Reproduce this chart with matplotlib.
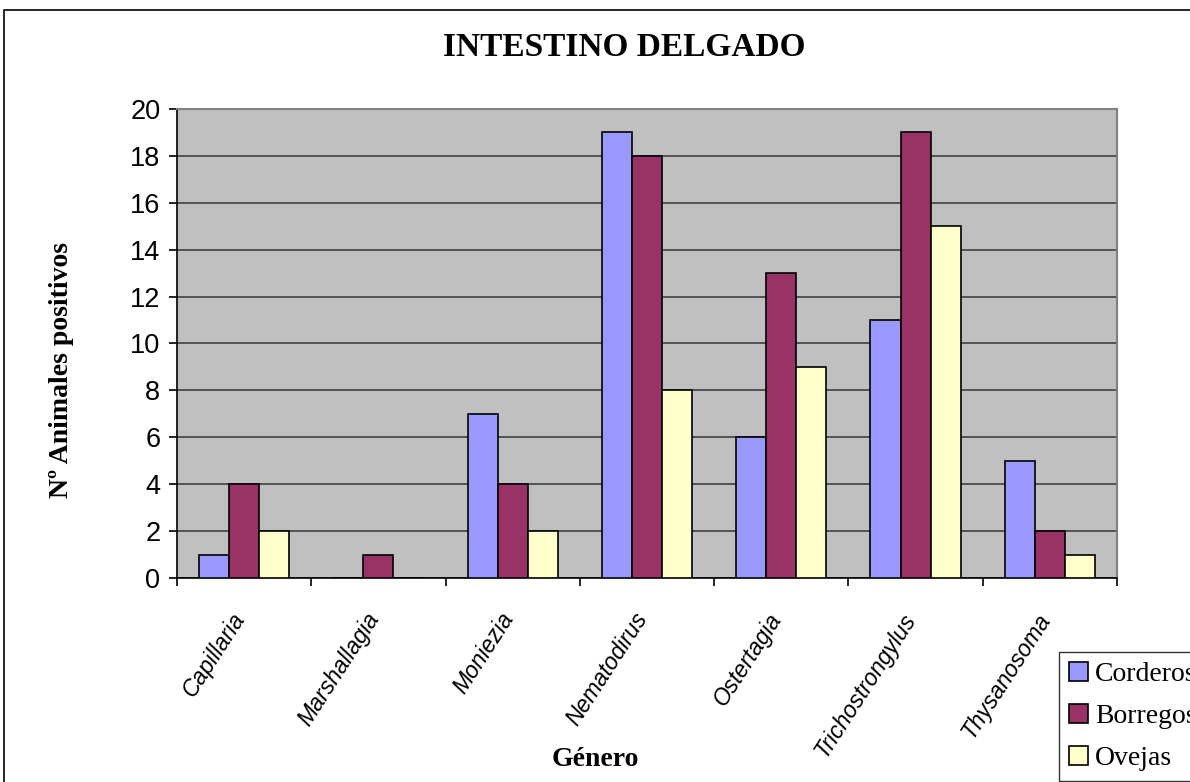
import matplotlib.pyplot as plt
import matplotlib.transforms as mtransforms
import numpy as np
from matplotlib.patches import Rectangle

generos = ["Capillaria", "Marshallagia", "Moniezia", "Nematodirus",
           "Ostertagia", "Trichostrongylus", "Thysanosoma"]
corderos = [1, 0, 7, 19, 6, 11, 5]
borregos = [4, 1, 4, 18, 13, 19, 2]
ovejas = [2, 0, 2, 8, 9, 15, 1]

series_names = ["Corderos", "Borregos", "Ovejas"]
series_colors = ["#9999FF", "#993366", "#FFFFCC"]

W, H = 1190, 782
fig = plt.figure(figsize=(W / 100, H / 100), dpi=100)
ax = fig.add_axes([177 / W, 1 - 578 / H, (1117 - 177) / W, (578 - 109) / H])

# outer chart frame (extends past the right and bottom edges)
fig.patches.append(Rectangle((4 / W, -0.05), 1.1, 1 - 10 / H + 0.05,
                             transform=fig.transFigure, fill=False,
                             edgecolor="black", linewidth=1.2))

x = np.arange(len(generos))
bw = 0.224
for i, (vals, color) in enumerate(zip([corderos, borregos, ovejas], series_colors)):
    ax.bar(x + (i - 1) * bw, vals, width=bw, color=color, edgecolor="black",
           linewidth=1.2, label=series_names[i], zorder=3)

ax.set_facecolor("#C0C0C0")
ax.set_xlim(-0.5, len(generos) - 0.5)
ax.set_ylim(0, 20)
ax.set_yticks(range(0, 21, 2))
ax.yaxis.grid(True, color="#404040", linewidth=1.2, zorder=1)
ax.set_axisbelow(True)

ax.set_xticks(np.arange(-0.5, len(generos), 1.0))
ax.set_xticklabels([])
ax.set_xticks(x, minor=True)
ax.set_xticklabels(generos, minor=True, rotation=57, ha="right",
                   rotation_mode="anchor", fontstyle="italic",
                   family="Liberation Sans", fontsize=16.5)
ax.tick_params(axis="x", which="minor", length=0, pad=22)
ax.tick_params(axis="x", which="major", length=6, width=1.2, direction="out")
ax.tick_params(axis="y", length=6, width=1.2, direction="out", pad=6,
               labelsize=19.5, labelfontfamily="Liberation Sans")

# nudge the rotated category labels so their ends sit under the group centres
shift = mtransforms.ScaledTranslation(-0.14, 0, fig.dpi_scale_trans)
for lbl in ax.get_xticklabels(minor=True):
    lbl.set_transform(lbl.get_transform() + shift)

for side in ["left", "bottom"]:
    ax.spines[side].set_color("black")
    ax.spines[side].set_linewidth(1.2)
for side in ["top", "right"]:
    ax.spines[side].set_color("#808080")
    ax.spines[side].set_linewidth(1.5)

fig.text(624 / W, 1 - 47 / H, "INTESTINO DELGADO", ha="center", va="center",
         family="Liberation Serif", fontweight="bold", fontsize=24)
fig.text(62 / W, 1 - 370 / H, "Nº Animales positivos", ha="center", va="center",
         rotation=90, family="Liberation Serif", fontweight="bold", fontsize=20)
fig.text(595 / W, 1 - 760 / H, "Género", ha="center", va="center",
         family="Liberation Serif", fontweight="bold", fontsize=20)

# legend is deliberately cut by the right edge, as in the original
leg = fig.legend(loc="upper left", bbox_to_anchor=(1059 / W, 1 - 652 / H),
                 frameon=True, fancybox=False, edgecolor="black",
                 prop={"family": "Liberation Serif", "size": 20},
                 handlelength=0.7, handleheight=0.7, handletextpad=0.25,
                 borderpad=0.35, labelspacing=0.6, borderaxespad=0)
leg.get_frame().set_linewidth(1.0)

fig.savefig("out.png", dpi=100)
